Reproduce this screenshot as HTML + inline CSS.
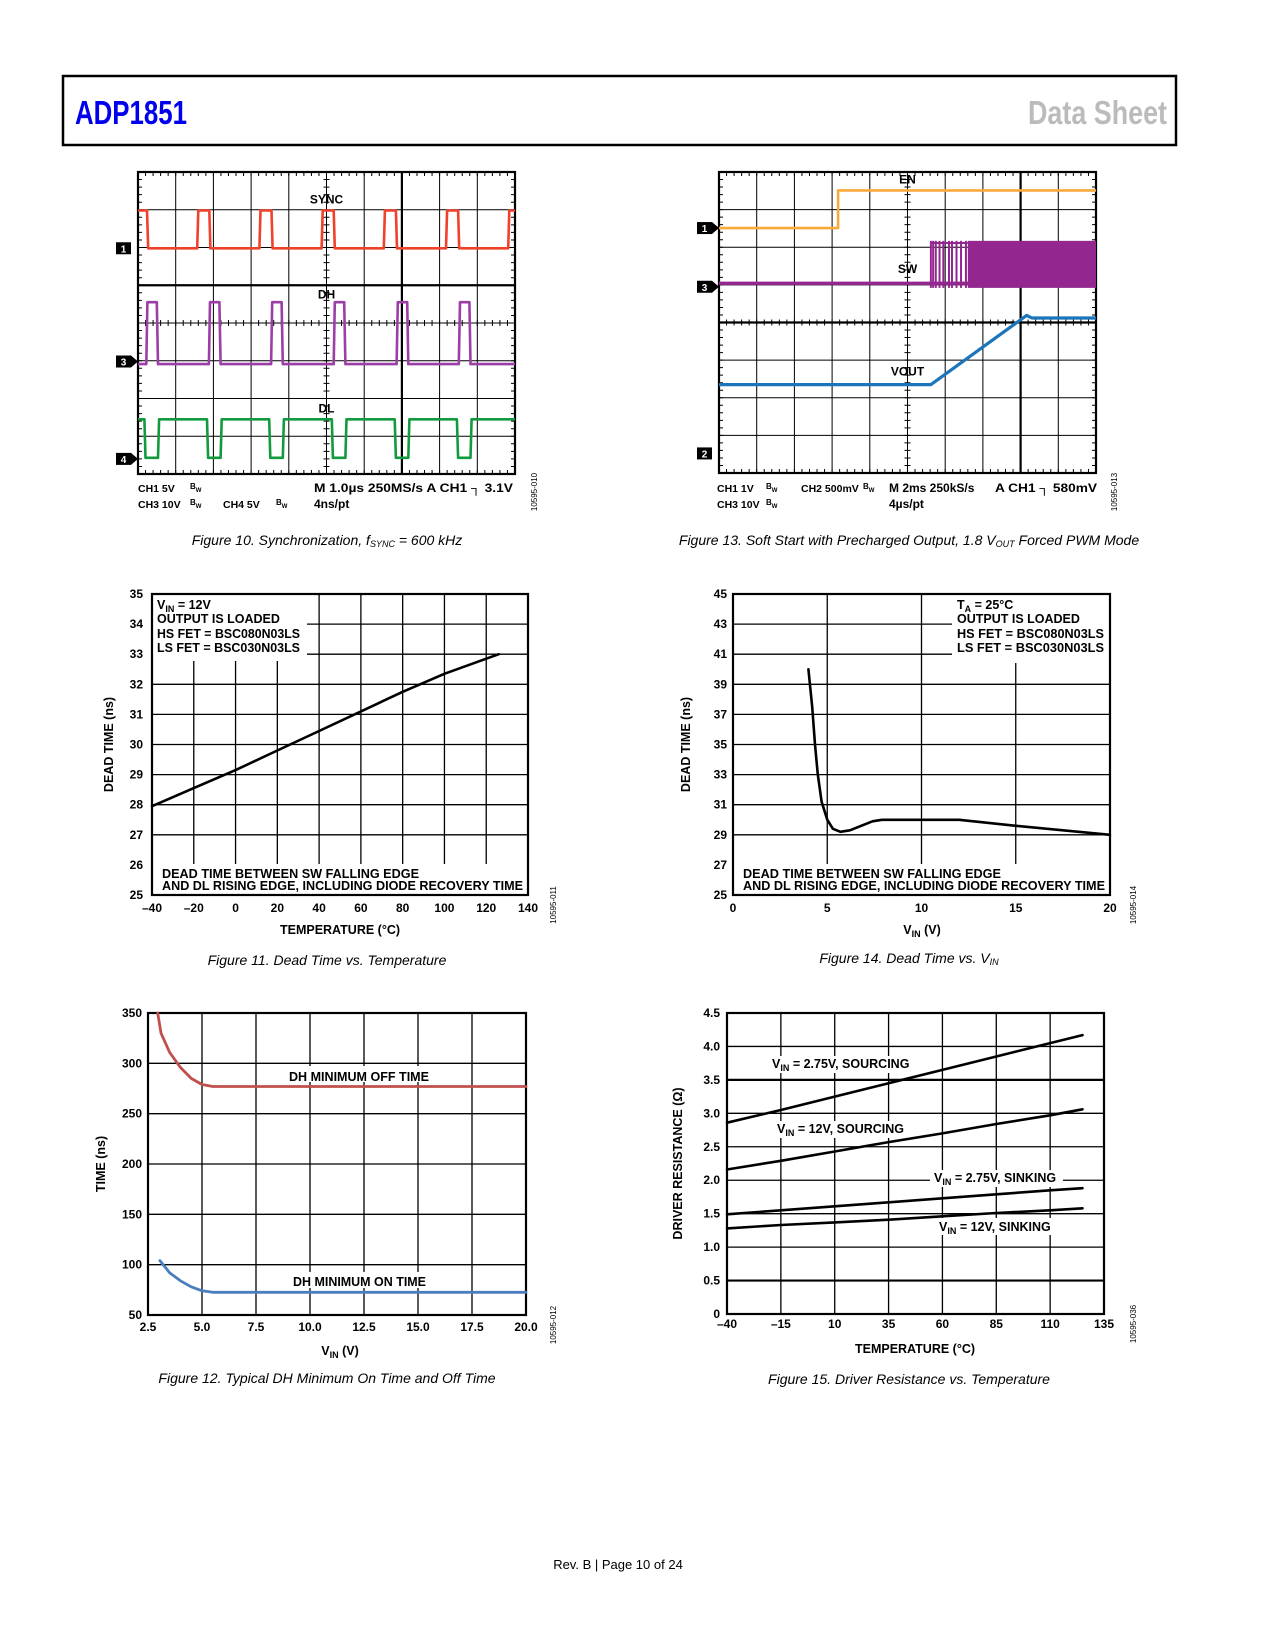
<!DOCTYPE html>
<html><head><meta charset="utf-8"><title>ADP1851 Data Sheet page 10</title>
<style>
html,body{margin:0;padding:0;background:#fff;}
svg{display:block;font-family:"Liberation Sans",sans-serif;}
</style></head>
<body>
<svg id="page" xmlns="http://www.w3.org/2000/svg" width="1275" height="1650" viewBox="0 0 1275 1650">
<rect x="0" y="0" width="1275" height="1650" fill="#fff"/>
<g>
<rect x="63" y="76" width="1113" height="69" fill="none" stroke="#000" stroke-width="2.5"/>
<text x="75" y="124" font-size="33" font-weight="bold" fill="#0000ee" textLength="112" lengthAdjust="spacingAndGlyphs">ADP1851</text>
<text x="1028" y="124" font-size="33" font-weight="bold" fill="#bbb" textLength="139" lengthAdjust="spacingAndGlyphs">Data Sheet</text>
</g>
<text x="327" y="545" font-size="14" font-style="italic" text-anchor="middle">Figure 10. Synchronization, <tspan font-style="italic">f</tspan><tspan font-size="9" dy="2">SYNC</tspan><tspan dy="-2"> = 600 kHz</tspan></text>
<text x="909" y="545" font-size="14" font-style="italic" text-anchor="middle">Figure 13. Soft Start with Precharged Output, 1.8 V<tspan font-size="9" dy="2">OUT</tspan><tspan dy="-2"> Forced PWM Mode</tspan></text>
<text x="327" y="965" font-size="14" font-style="italic" text-anchor="middle">Figure 11. Dead Time vs. Temperature</text>
<text x="909" y="963" font-size="14" font-style="italic" text-anchor="middle">Figure 14. Dead Time vs. V<tspan font-size="9" dy="2">IN</tspan></text>
<text x="327" y="1383" font-size="14" font-style="italic" text-anchor="middle">Figure 12. Typical DH Minimum On Time and Off Time</text>
<text x="909" y="1384" font-size="14" font-style="italic" text-anchor="middle">Figure 15. Driver Resistance vs. Temperature</text>
<text x="618" y="1569" font-size="13" text-anchor="middle">Rev. B | Page 10 of 24</text>
</svg>
<script>
// ---------- DATA ----------
// Fig 10 scope (divisions)
const syncRise = [1.57, 3.22, 4.87, 6.52, 8.17, 9.82];
const syncWidth = 0.32;
const dhRise = [0.22, 1.88, 3.53, 5.19, 6.86, 8.51];
const dhWidth = 0.28;
const dlFall = [0.17, 1.83, 3.48, 5.14, 6.81, 8.46];
const dlWidth = 0.36;
// Fig 13 scope (divisions)
const enStep = [3.16];
const swStart = [5.62];
const swSparse = [5.62, 5.68, 5.75, 5.85, 5.95, 6.1, 6.18, 6.3, 6.42, 6.55];
const swDense = [6.6];
const voutX = [0, 5.62, 8.16, 8.3, 10];
const voutY = [5.65, 5.65, 3.81, 3.88, 3.88];
// Fig 11
const f11X = [-40, -20, 0, 20, 40, 60, 80, 100, 120, 126];
const f11Y = [27.95, 28.55, 29.15, 29.8, 30.45, 31.1, 31.75, 32.35, 32.85, 33.0];
const f11XTicks = [-40, -20, 0, 20, 40, 60, 80, 100, 120, 140];
const f11YTicks = [25, 26, 27, 28, 29, 30, 31, 32, 33, 34, 35];
// Fig 14
const f14X = [4.0, 4.2, 4.35, 4.5, 4.7, 5.0, 5.3, 5.7, 6.2, 6.8, 7.4, 7.9, 10, 12, 15, 20];
const f14Y = [40, 37.5, 35, 33, 31.2, 30, 29.4, 29.2, 29.3, 29.6, 29.9, 30.0, 30.0, 30.0, 29.6, 29.0];
const f14XTicks = [0, 5, 10, 15, 20];
const f14YTicks = [25, 27, 29, 31, 33, 35, 37, 39, 41, 43, 45];
// Fig 12
const f12X = [2.95, 3.1, 3.5, 4.0, 4.5, 5.0, 5.5, 10, 20];
const f12Off = [350, 330, 311, 296, 285, 279, 277, 277, 277];
const f12OnX = [3.05, 3.5, 4.0, 4.5, 5.0, 5.5, 10, 20];
const f12On = [104, 92, 84, 78, 74, 72.5, 72.5, 72.5];
const f12XTicks = [2.5, 5.0, 7.5, 10.0, 12.5, 15.0, 17.5, 20.0];
const f12YTicks = [50, 100, 150, 200, 250, 300, 350];
// Fig 15
const f15X = [-40, -15, 10, 35, 60, 85, 110, 125];
const f15Src275 = [2.86, 3.05, 3.25, 3.45, 3.65, 3.85, 4.05, 4.17];
const f15Src12 = [2.16, 2.29, 2.43, 2.57, 2.70, 2.84, 2.97, 3.06];
const f15Snk275 = [1.49, 1.55, 1.61, 1.67, 1.73, 1.79, 1.85, 1.88];
const f15Snk12 = [1.28, 1.33, 1.37, 1.41, 1.46, 1.51, 1.55, 1.58];
const f15XTicks = [-40, -15, 10, 35, 60, 85, 110, 135];
const f15YTicks = [0, 0.5, 1.0, 1.5, 2.0, 2.5, 3.0, 3.5, 4.0, 4.5];

// ---------- HELPERS ----------
const NS = "http://www.w3.org/2000/svg";
const svg = document.getElementById('page');
function mk(tag, attrs, parent) {
  const e = document.createElementNS(NS, tag);
  for (const k in attrs) e.setAttribute(k, attrs[k]);
  (parent || svg).appendChild(e);
  return e;
}
function txt(x, y, s, attrs, parent) {
  const e = mk('text', Object.assign({x: x, y: y}, attrs), parent);
  e.textContent = s;
  return e;
}
function lin(d0, d1, r0, r1) { return v => r0 + (v - d0) / (d1 - d0) * (r1 - r0); }
function fmt(v) { return (v < 0 ? '\u2013' + Math.abs(v) : '' + v); }

// ---------- SCOPE ----------
function scope(name, x0, y0, w, h, thickX, thickY) {
  const g = mk('g', {});
  
  
  const dx = w / 10, dy = h / 8;
  for (let i = 1; i < 10; i++) {
    const l = mk('line', {x1: x0 + i * dx, x2: x0 + i * dx, y1: y0, y2: y0 + h, stroke: '#000', 'stroke-width': i === thickX ? 2.2 : 1}, g);
    
    
  }
  for (let j = 1; j < 8; j++) {
    const l = mk('line', {x1: x0, x2: x0 + w, y1: y0 + j * dy, y2: y0 + j * dy, stroke: '#000', 'stroke-width': j === thickY ? 2.2 : 1}, g);
    
    
  }
  // minor ticks
  let d = '';
  for (let i = 0; i <= 50; i++) {
    const x = x0 + i * dx / 5;
    d += `M${x},${y0}v4M${x},${y0 + h}v-4M${x},${y0 + 4 * dy - 3}v6`;
  }
  for (let j = 0; j <= 40; j++) {
    const y = y0 + j * dy / 5;
    d += `M${x0},${y}h4M${x0 + w},${y}h-4M${x0 + 5 * dx - 3},${y}h6`;
  }
  const t = mk('path', {d: d, stroke: '#000', 'stroke-width': 1, fill: 'none'}, g);
  
  
  const fr = mk('rect', {x: x0, y: y0, width: w, height: h, fill: 'none', stroke: '#000', 'stroke-width': 2.2}, g);
  
  
  return {g: g, X: v => x0 + v * dx, Y: v => y0 + v * dy, x0: x0, y0: y0, w: w, h: h};
}
function marker(s, label, ydiv, arrow) {
  const y = s.Y(ydiv);
  const x = s.x0 - 22;
  const m = mk('g', {}, s.g);
  
  
  mk('rect', {x: x, y: y - 6, width: 15, height: 12, fill: '#000'}, m);
  if (arrow) mk('path', {d: `M${x + 15},${y - 6}L${s.x0},${y}L${x + 15},${y + 6}Z`, fill: '#000'}, m);
  txt(x + 7.5, y + 4, label, {'font-size': 10, 'font-weight': 'bold', fill: '#fff', 'text-anchor': 'middle'}, m);
}
function pulses(starts, width, hiY, loY, startHighUntil, invert) {
  // returns list of [xdiv, ydiv]
  const pts = [];
  const base = invert ? hiY : loY, act = invert ? loY : hiY;
  if (startHighUntil !== null) { pts.push([0, act], [startHighUntil, act], [startHighUntil + 0.03, base]); }
  else pts.push([0, base]);
  starts.forEach(r => {
    const e = Math.min(r + width, 10);
    pts.push([r, base], [r + 0.03, act], [e, act]);
    if (e < 10) pts.push([e + 0.03, base]);
  });
  const last = pts[pts.length - 1];
  pts.push([10, last[1]]);
  return pts;
}
function tracePath(s, pts, color, name) {
  const d = pts.map((p, i) => (i ? 'L' : 'M') + s.X(p[0]).toFixed(1) + ',' + s.Y(p[1]).toFixed(1)).join('');
  const p = mk('path', {d: d, stroke: color, 'stroke-width': 2.6, fill: 'none', 'stroke-linejoin': 'round'}, s.g);
  
  
  return p;
}
function sub(parent, x, y, main, subs, attrs) {
  const t = mk('text', Object.assign({x: x, y: y}, attrs), parent);
  const a = document.createElementNS(NS, 'tspan'); a.textContent = main; t.appendChild(a);
  const b = document.createElementNS(NS, 'tspan'); b.setAttribute('font-size', '0.75em'); b.setAttribute('dy', '3'); b.textContent = subs; t.appendChild(b);
  return t;
}

// ---------- FIG 10 ----------
(function () {
  const s = scope('scope-fig10-sync', 138, 172, 377, 302, 7, 3);
  const sy = pulses(syncRise, syncWidth, 1.02, 2.02, 0.24, false);
  tracePath(s, sy, '#f0412b', 'sync-trace');
  const dh = pulses(dhRise, dhWidth, 3.45, 5.09, null, false);
  tracePath(s, dh, '#9b3fa6', 'dh-trace');
  const dl = pulses(dlFall, dlWidth, 6.55, 7.57, null, true);
  tracePath(s, dl, '#139a3e', 'dl-trace');
  const lab = {'font-size': 12, 'font-weight': 'bold', 'text-anchor': 'middle'};
  let e;
  e = txt(s.X(5), s.Y(0.73) + 4, 'SYNC', lab, s.g);  
  e = txt(s.X(5), s.Y(3.25) + 4, 'DH', lab, s.g);  
  e = txt(s.X(5), s.Y(6.27) + 4, 'DL', lab, s.g);  
  marker(s, '1', 2.02, false);
  marker(s, '3', 5.02, true);
  marker(s, '4', 7.6, true);
  const st = {'font-size': 10.5, 'font-weight': 'bold'};
  const info = mk('g', {}, s.g);
  
  
  txt(138, 492, 'CH1  5V', st, info); sub(info, 190, 489, 'B', 'W', {'font-size': 8, 'font-weight': 'bold'});
  txt(138, 508, 'CH3  10V', st, info); sub(info, 190, 505, 'B', 'W', {'font-size': 8, 'font-weight': 'bold'});
  txt(223, 508, 'CH4  5V', st, info); sub(info, 276, 505, 'B', 'W', {'font-size': 8, 'font-weight': 'bold'});
  txt(314, 492, 'M 1.0\u00b5s 250MS/s   A  CH1 \u2510 3.1V', Object.assign({textLength: 199, lengthAdjust: 'spacingAndGlyphs'}, st, {'font-size': 12}), info);
  txt(314, 508, '4ns/pt', Object.assign({}, st, {'font-size': 12}), info);
  txt(0, 0, '10595-010', {'font-size': 8, transform: 'translate(537,492) rotate(-90)', 'text-anchor': 'middle'}, info);
})();

// ---------- FIG 13 ----------
(function () {
  const s = scope('scope-fig13-softstart', 719, 172, 377, 301, 8, 4);
  // SW
  const swG = mk('g', {}, s.g);
  
  
  mk('line', {x1: s.X(0), x2: s.X(10), y1: s.Y(2.96), y2: s.Y(2.96), stroke: '#93278f', 'stroke-width': 3.5}, swG);
  swSparse.forEach(v => {
    const l = mk('line', {x1: s.X(v), x2: s.X(v), y1: s.Y(1.83), y2: s.Y(3.08), stroke: '#93278f', 'stroke-width': 2}, swG);
    
  });
  mk('rect', {x: s.X(swStart[0]), y: s.Y(1.86), width: s.X(swDense[0]) - s.X(swStart[0]), height: 2, fill: '#93278f'}, swG);
  mk('rect', {x: s.X(swDense[0]), y: s.Y(1.83), width: s.X(10) - s.X(swDense[0]), height: s.Y(3.08) - s.Y(1.83), fill: '#93278f'}, swG);
  // EN
  tracePath(s, [[0, 1.49], [enStep[0], 1.49], [enStep[0], 0.49], [10, 0.49]], '#f9a93a', 'en-trace');
  // VOUT
  tracePath(s, voutX.map((v, i) => [v, voutY[i]]), '#1b75bb', 'vout-trace').setAttribute('stroke-width', 3.2);
  const lab = {'font-size': 12, 'font-weight': 'bold', 'text-anchor': 'middle'};
  let e;
  e = txt(s.X(5), s.Y(0.2) + 4, 'EN', lab, s.g);  
  e = txt(s.X(5), s.Y(2.58) + 4, 'SW', lab, s.g);  
  e = txt(s.X(5), s.Y(5.3) + 4, 'VOUT', lab, s.g);  
  marker(s, '1', 1.49, true);
  marker(s, '3', 3.05, true);
  marker(s, '2', 7.48, false);
  const st = {'font-size': 10.5, 'font-weight': 'bold'};
  const info = mk('g', {}, s.g);
  
  
  txt(717, 492, 'CH1 1V', st, info); sub(info, 766, 489, 'B', 'W', {'font-size': 8, 'font-weight': 'bold'});
  txt(717, 508, 'CH3 10V', st, info); sub(info, 766, 505, 'B', 'W', {'font-size': 8, 'font-weight': 'bold'});
  txt(801, 492, 'CH2 500mV', st, info); sub(info, 863, 489, 'B', 'W', {'font-size': 8, 'font-weight': 'bold'});
  txt(889, 492, 'M 2ms 250kS/s', Object.assign({}, st, {'font-size': 12}), info);
  txt(995, 492, 'A  CH1 \u2510 580mV', Object.assign({textLength: 102, lengthAdjust: 'spacingAndGlyphs'}, st, {'font-size': 12}), info);
  txt(889, 508, '4\u00b5s/pt', Object.assign({}, st, {'font-size': 12}), info);
  txt(0, 0, '10595-013', {'font-size': 8, transform: 'translate(1117,492) rotate(-90)', 'text-anchor': 'middle'}, info);
})();

// ---------- XY CHART ----------
function chart(cfg) {
  const g = mk('g', {});
  
  
  const X = lin(cfg.xd[0], cfg.xd[1], cfg.x0, cfg.x0 + cfg.w);
  const Y = lin(cfg.yd[0], cfg.yd[1], cfg.y0 + cfg.h, cfg.y0);
  cfg.xTicks.forEach(v => {
    const l = mk('line', {x1: X(v), x2: X(v), y1: cfg.y0, y2: cfg.y0 + cfg.h, stroke: '#000', 'stroke-width': 1.3}, g);
    
    
    const t = txt(X(v), cfg.xLabY, cfg.xFmt(v), {'font-size': 12, 'font-weight': 'bold', 'text-anchor': 'middle'}, g);
    
    
  });
  cfg.yTicks.forEach(v => {
    const l = mk('line', {x1: cfg.x0, x2: cfg.x0 + cfg.w, y1: Y(v), y2: Y(v), stroke: '#000', 'stroke-width': (cfg.thickY && cfg.thickY.indexOf(v) >= 0) ? 2.2 : 1.3}, g);
    
    
    const t = txt(cfg.yLabX, Y(v) + 4, cfg.yFmt(v), {'font-size': 12, 'font-weight': 'bold', 'text-anchor': 'end'}, g);
    
    
  });
  (cfg.masks || []).forEach(m => mk('rect', {x: m[0], y: m[1], width: m[2], height: m[3], fill: '#fff'}, g));
  const fr = mk('rect', {x: cfg.x0, y: cfg.y0, width: cfg.w, height: cfg.h, fill: 'none', stroke: '#000', 'stroke-width': 2.2}, g);
  
  
  const xt = mk('text', {x: cfg.xTitle[0], y: cfg.xTitle[1], 'font-size': 12.5, 'font-weight': 'bold', 'text-anchor': 'middle'}, g);
  
  
  xt.innerHTML = cfg.xTitle[2];
  const yt = txt(0, 0, cfg.yTitle[1], {'font-size': 12.5, 'font-weight': 'bold', 'text-anchor': 'middle', transform: `translate(${cfg.yTitle[0]},${cfg.y0 + cfg.h / 2}) rotate(-90)`}, g);
  
  
  const code = txt(0, 0, cfg.code, {'font-size': 8, 'text-anchor': 'middle', transform: `translate(${cfg.codeX},${cfg.y0 + cfg.h + 10}) rotate(-90)`}, g);
  
  
  return {g: g, X: X, Y: Y};
}
function series(c, xs, ys, color, width, name) {
  const d = xs.map((v, i) => (i ? 'L' : 'M') + c.X(v).toFixed(1) + ',' + c.Y(ys[i]).toFixed(1)).join('');
  const p = mk('path', {d: d, stroke: color, 'stroke-width': width, fill: 'none', 'stroke-linejoin': 'round', 'stroke-linecap': 'round'}, c.g);
  
  
}
function note(c, x, y, s, len, name) {
  const t = mk('text', {x: x, y: y, 'font-size': 12.5, 'font-weight': 'bold'}, c.g);
  if (len) { t.setAttribute('textLength', len); t.setAttribute('lengthAdjust', 'spacingAndGlyphs'); }
  t.innerHTML = s;
  
  
}
const SUBIN = '<tspan font-size="9" dy="3">IN</tspan><tspan dy="-3">';

// Fig 11
(function () {
  const c = chart({name: 'chart-fig11-deadtime-vs-temp', x0: 152, y0: 594, w: 376, h: 301, xd: [-40, 140], yd: [25, 35],
    xTicks: f11XTicks, yTicks: f11YTicks, xFmt: fmt, yFmt: v => '' + v, xLabY: 912, yLabX: 143,
    masks: [[153, 595, 154, 66], [153, 864, 374, 30]],
    xTitle: [340, 934, 'TEMPERATURE (°C)'], yTitle: [113, 'DEAD TIME (ns)'], code: '10595-011', codeX: 556});
  series(c, f11X, f11Y, '#000', 2.6, 'deadtime-temp-line');
  note(c, 157, 609, 'V' + SUBIN + ' = 12V</tspan>', 0, 'condition-vin');
  note(c, 157, 623, 'OUTPUT IS LOADED', 0, 'condition-load');
  note(c, 157, 638, 'HS FET = BSC080N03LS', 143, 'condition-hsfet');
  note(c, 157, 652, 'LS FET = BSC030N03LS', 143, 'condition-lsfet');
  note(c, 162, 878, 'DEAD TIME BETWEEN SW FALLING EDGE', 257, 'note-line1');
  note(c, 162, 890, 'AND DL RISING EDGE, INCLUDING DIODE RECOVERY TIME', 361, 'note-line2');
})();

// Fig 14
(function () {
  const c = chart({name: 'chart-fig14-deadtime-vs-vin', x0: 733, y0: 594, w: 377, h: 301, xd: [0, 20], yd: [25, 45],
    xTicks: f14XTicks, yTicks: f14YTicks, xFmt: v => '' + v, yFmt: v => '' + v, xLabY: 912, yLabX: 727,
    masks: [[952, 595, 157, 68], [734, 864, 375, 30]],
    xTitle: [922, 934, 'V<tspan font-size="9" dy="3">IN</tspan><tspan dy="-3"> (V)</tspan>'], yTitle: [690, 'DEAD TIME (ns)'], code: '10595-014', codeX: 1136});
  series(c, f14X, f14Y, '#000', 2.6, 'deadtime-vin-curve');
  note(c, 957, 609, 'T<tspan font-size="9" dy="3">A</tspan><tspan dy="-3"> = 25°C</tspan>', 0, 'condition-ta');
  note(c, 957, 623, 'OUTPUT IS LOADED', 0, 'condition-load');
  note(c, 957, 638, 'HS FET = BSC080N03LS', 147, 'condition-hsfet');
  note(c, 957, 652, 'LS FET = BSC030N03LS', 147, 'condition-lsfet');
  note(c, 743, 878, 'DEAD TIME BETWEEN SW FALLING EDGE', 258, 'note-line1');
  note(c, 743, 890, 'AND DL RISING EDGE, INCLUDING DIODE RECOVERY TIME', 362, 'note-line2');
})();

// Fig 12
(function () {
  const c = chart({name: 'chart-fig12-min-on-off-time', x0: 148, y0: 1013, w: 378, h: 302, xd: [2.5, 20], yd: [50, 350],
    xTicks: f12XTicks, yTicks: f12YTicks, xFmt: v => v.toFixed(1), yFmt: v => '' + v, xLabY: 1331, yLabX: 142,
    masks: [[286, 1066, 146, 16], [290, 1272, 139, 16]],
    xTitle: [340, 1355, 'V<tspan font-size="9" dy="3">IN</tspan><tspan dy="-3"> (V)</tspan>'], yTitle: [105, 'TIME (ns)'], code: '10595-012', codeX: 556});
  series(c, f12X, f12Off, '#c0504d', 2.8, 'min-off-time-line');
  series(c, f12OnX, f12On, '#4a7ebf', 2.8, 'min-on-time-line');
  note(c, 289, 1081, 'DH MINIMUM OFF TIME', 140, 'off-time-label');
  note(c, 293, 1286, 'DH MINIMUM ON TIME', 133, 'on-time-label');
})();

// Fig 15
(function () {
  const c = chart({name: 'chart-fig15-driver-resistance', x0: 727, y0: 1013, w: 377, h: 301, xd: [-40, 135], yd: [0, 4.5],
    xTicks: f15XTicks, yTicks: f15YTicks, xFmt: fmt, yFmt: v => (v === 0 ? '0' : v.toFixed(1)), xLabY: 1328, yLabX: 720,
    thickY: [3.5, 0.5],
    masks: [[769, 1056, 147, 17], [774, 1121, 136, 17], [930, 1170, 133, 17], [935, 1218, 123, 17]],
    xTitle: [915, 1353, 'TEMPERATURE (°C)'], yTitle: [682, 'DRIVER RESISTANCE (\u03a9)'], code: '10595-036', codeX: 1136});
  series(c, f15X, f15Src275, '#000', 2.6, 'vin275-sourcing-line');
  series(c, f15X, f15Src12, '#000', 2.6, 'vin12-sourcing-line');
  series(c, f15X, f15Snk275, '#000', 2.6, 'vin275-sinking-line');
  series(c, f15X, f15Snk12, '#000', 2.6, 'vin12-sinking-line');
  note(c, 772, 1068, 'V' + SUBIN + ' = 2.75V, SOURCING</tspan>', 0, 'label-vin275-sourcing');
  note(c, 777, 1133, 'V' + SUBIN + ' = 12V, SOURCING</tspan>', 0, 'label-vin12-sourcing');
  note(c, 934, 1182, 'V' + SUBIN + ' = 2.75V, SINKING</tspan>', 0, 'label-vin275-sinking');
  note(c, 939, 1231, 'V' + SUBIN + ' = 12V, SINKING</tspan>', 0, 'label-vin12-sinking');
})();
</script>
</body></html>
